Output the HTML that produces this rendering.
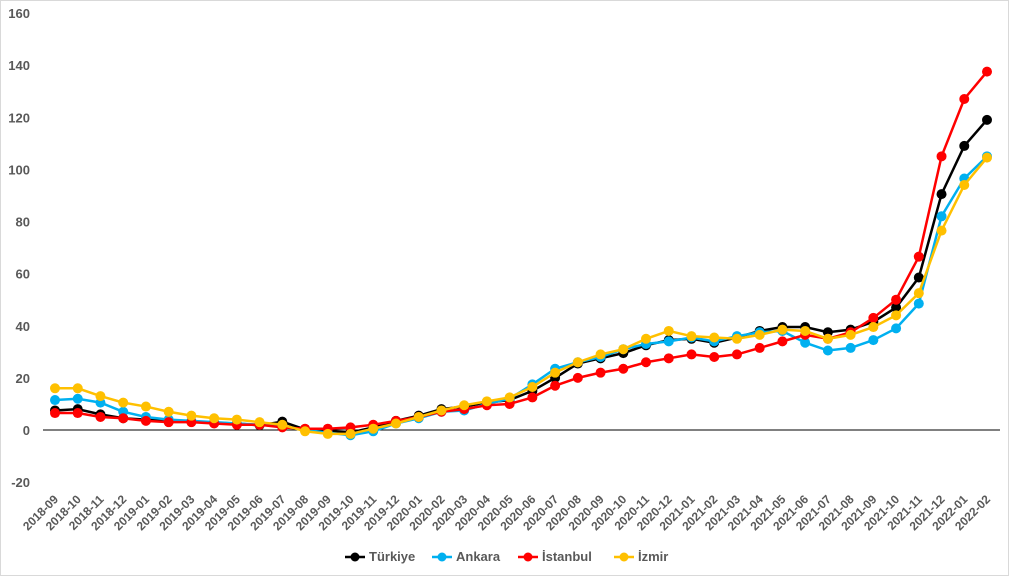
<!DOCTYPE html>
<html><head><meta charset="utf-8"><style>
body{margin:0;background:#fff;}
svg{display:block;font-family:"Liberation Sans",sans-serif;}
</style></head><body>
<svg id="c" width="1010" height="576">
<rect x="0.5" y="0.5" width="1008" height="575" fill="#fff" stroke="#d9d9d9"/>
</svg>
<script>
const categories=["2018-09","2018-10","2018-11","2018-12","2019-01","2019-02","2019-03","2019-04","2019-05","2019-06","2019-07","2019-08","2019-09","2019-10","2019-11","2019-12","2020-01","2020-02","2020-03","2020-04","2020-05","2020-06","2020-07","2020-08","2020-09","2020-10","2020-11","2020-12","2021-01","2021-02","2021-03","2021-04","2021-05","2021-06","2021-07","2021-08","2021-09","2021-10","2021-11","2021-12","2022-01","2022-02"];
const turkiye=[7.5,8,6,4.5,4,3.5,3.2,2.8,2.5,1.8,3.2,0.2,-0.5,-1,1,3.5,5.5,8,9,10.5,11.5,15,20,25.5,27.5,29.5,32.5,34.5,35,33.5,35.5,38,39.5,39.5,37.5,38.5,41.5,47,58.5,90.5,109,119];
const ankara=[11.5,12,10.5,7,5,4,3.5,3,2.5,2,1.5,0,-1,-2,-0.5,2.5,4.5,7,7.5,10,12,17.5,23.5,26,28,31,33,34,35.5,34,36,37.5,38,33.5,30.5,31.5,34.5,39,48.5,82,96.5,105];
const istanbul=[6.5,6.5,5,4.5,3.5,3,3,2.5,2,2,1,0.5,0.5,1,2,3.5,5,7,8,9.5,10,12.5,17,20,22,23.5,26,27.5,29,28,29,31.5,34,36.5,35,37.5,43,50,66.5,105,127,137.5];
const izmir=[16,16,13,10.5,9,7,5.5,4.5,4,3,2,-0.5,-1.5,-1.5,0.5,2.5,5,7.5,9.5,11,12.5,16.5,22,26,29,31,35,38,36,35.5,35,36.5,38.5,38,35,36.5,39.5,44,52.5,76.5,94,104.5];
const yTicks=[-20,0,20,40,60,80,100,120,140,160];
const seriesNames=["Türkiye","Ankara","İstanbul","İzmir"];
const seriesColors=["#000000","#00b0f0","#ff0000","#ffc000"];
const NS="http://www.w3.org/2000/svg";
const svg=document.getElementById('c');
const x0=55,x1=987,yTop=13,yZero=430;
const xs=i=>x0+i*(x1-x0)/(categories.length-1);
const ys=v=>yZero-v*(yZero-yTop)/160;
function mk(t,a,p){const e=document.createElementNS(NS,t);for(const k in a)e.setAttribute(k,a[k]);(p||svg).appendChild(e);return e;}
yTicks.forEach(t=>{const e=mk('text',{x:30,y:ys(t)+5,'text-anchor':'end','font-size':13,'font-weight':'bold',fill:'#595959'});e.textContent=t;

});
const ax=mk('line',{x1:43,x2:1000,y1:ys(0),y2:ys(0),stroke:'#000','stroke-width':1});


categories.forEach((c,i)=>{const x=xs(i)+4,y=500;const e=mk('text',{x:x,y:y,'text-anchor':'end','font-size':12,'font-weight':'bold',fill:'#595959',transform:`rotate(-45 ${x} ${y})`});e.textContent=c;

});
[turkiye,ankara,istanbul,izmir].forEach((d,s)=>{const g=mk('g',{});


mk('polyline',{points:d.map((v,i)=>xs(i)+','+ys(v)).join(' '),fill:'none',stroke:seriesColors[s],'stroke-width':2.5},g);
d.forEach((v,i)=>{const p=mk('circle',{cx:xs(i),cy:ys(v),r:5,fill:seriesColors[s]},g);

});});
const lx=[345,432,518,614];
seriesNames.forEach((n,s)=>{const g=mk('g',{});


mk('line',{x1:lx[s],x2:lx[s]+20,y1:557,y2:557,stroke:seriesColors[s],'stroke-width':2.5},g);
mk('circle',{cx:lx[s]+10,cy:557,r:4.5,fill:seriesColors[s]},g);
const t=mk('text',{x:lx[s]+24,y:561,'font-size':13,'font-weight':'bold',fill:'#595959'},g);t.textContent=n;});
</script>
</body></html>
